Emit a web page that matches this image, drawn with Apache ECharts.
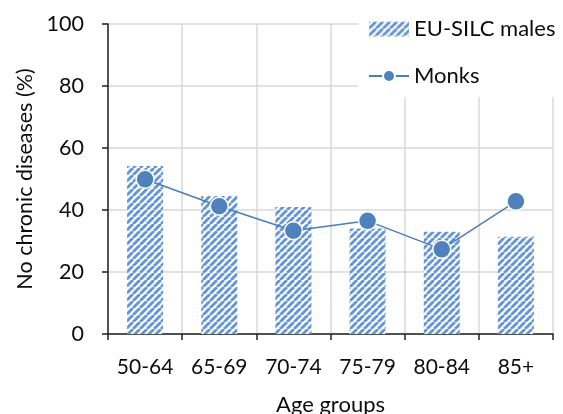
<!DOCTYPE html>
<html><head><meta charset="utf-8">
<script src="https://cdn.jsdelivr.net/npm/echarts@6/dist/echarts.min.js"></script>
<style>html,body{margin:0;padding:0;background:#fff}#c{width:563px;height:414px}</style>
</head><body><div id="c"></div>
<script>
const categories = ['50-64','65-69','70-74','75-79','80-84','85+'];
const euSilcMales = [54.2, 44.5, 41.0, 34.0, 33.0, 31.4];
const monks = [49.9, 41.2, 33.3, 36.5, 27.3, 42.8];
const yTicks = {min: 0, max: 100, interval: 20};

function stripePattern(){
  const s = 7;
  const c = document.createElement('canvas');
  c.width = s; c.height = s;
  const g = c.getContext('2d');
  g.fillStyle = '#ffffff'; g.fillRect(0,0,s,s);
  g.strokeStyle = '#6494DA'; g.lineWidth = 2.9;
  for (let k=-1;k<=1;k++){
    g.beginPath(); g.moveTo(k*s, s); g.lineTo(k*s+s, 0); g.stroke();
  }
  return c;
}
const FONT = 'Lato';
const TXT = '#0d0d0d';
const chart = echarts.init(document.getElementById('c'), null, {renderer:'canvas'});
chart.setOption({
  animation:false,
  textStyle:{fontFamily:FONT},
  grid:{left:108,right:10,top:24,bottom:80,containLabel:false,outerBoundsMode:'none'},
  legend:{
    orient:'vertical', left:358, top:12, itemWidth:40, itemHeight:15, itemGap:25,
    padding:[6,12,10,10], backgroundColor:'#fff', z:10,
    textStyle:{fontSize:22,color:TXT,fontFamily:FONT},
    data:[{name:'EU-SILC males', icon:'rect'},{name:'Monks'}]
  },
  xAxis:{
    type:'category', data:categories, boundaryGap:true,
    name:'Age groups', nameLocation:'middle', nameGap:60,
    nameTextStyle:{fontSize:22,color:TXT},
    axisLine:{lineStyle:{color:'#222',width:1.5}},
    axisTick:{show:true,length:6,lineStyle:{color:'#222',width:1.5}},
    axisLabel:{margin:23,fontSize:21,color:TXT},
    splitLine:{show:true,lineStyle:{color:'#d9d9d9',width:1.5}}
  },
  yAxis:{
    type:'value', min:yTicks.min, max:yTicks.max, interval:yTicks.interval,
    name:'No chronic diseases (%)', nameLocation:'middle', nameGap:71,
    nameTextStyle:{fontSize:21.5,color:TXT},
    axisLine:{show:true,lineStyle:{color:'#222',width:1.5}},
    axisTick:{show:true,length:6,lineStyle:{color:'#222',width:1.5}},
    axisLabel:{margin:24,fontSize:21.5,color:TXT},
    splitLine:{show:true,lineStyle:{color:'#d9d9d9',width:1.5}}
  },
  series:[
    {name:'EU-SILC males', type:'bar', data:euSilcMales, barWidth:36,
     itemStyle:{color:{image:stripePattern(), repeat:'repeat'}}},
    {name:'Monks', type:'line', data:monks, symbol:'circle', symbolSize:18,
     lineStyle:{color:'#4A7EBB',width:1.5},
     itemStyle:{color:'#4F81BD',borderColor:'#fff',borderWidth:1.5}, z:5}
  ]
});
</script></body></html>
